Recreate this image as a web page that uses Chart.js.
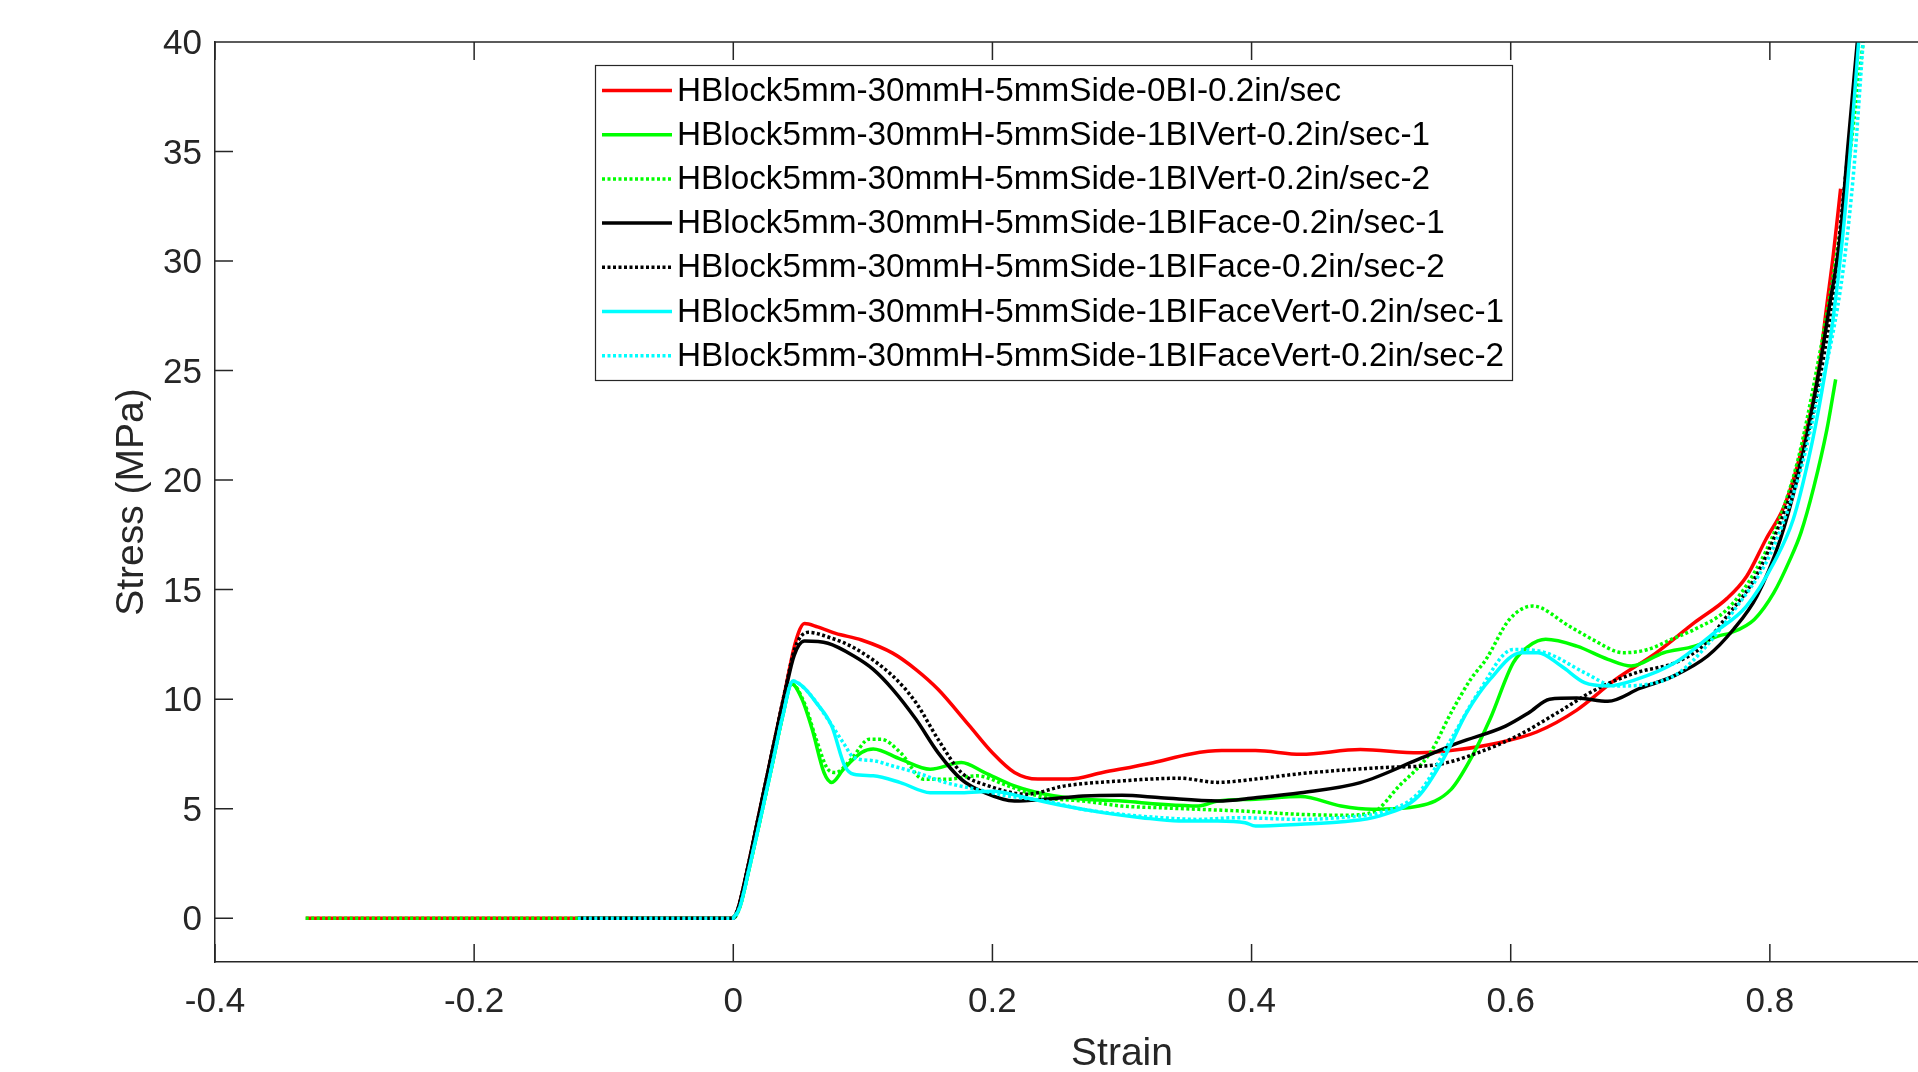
<!DOCTYPE html>
<html>
<head>
<meta charset="utf-8">
<script src="https://cdn.jsdelivr.net/npm/chart.js@4.4.0/dist/chart.umd.min.js"></script>
<style>
html,body{margin:0;padding:0;overflow:hidden;background:#fff;width:1918px;height:1072px;}
#wrap{position:absolute;left:0;top:0;width:2100px;height:1072px;}
canvas{display:block;}
</style>
</head>
<body>
<div id="wrap"><canvas id="c" width="2100" height="1072" style="width:2100px;height:1072px"></canvas></div>
<script>
// ---- data ----
const seriesLabels = [
  "HBlock5mm-30mmH-5mmSide-0BI-0.2in/sec",
  "HBlock5mm-30mmH-5mmSide-1BIVert-0.2in/sec-1",
  "HBlock5mm-30mmH-5mmSide-1BIVert-0.2in/sec-2",
  "HBlock5mm-30mmH-5mmSide-1BIFace-0.2in/sec-1",
  "HBlock5mm-30mmH-5mmSide-1BIFace-0.2in/sec-2",
  "HBlock5mm-30mmH-5mmSide-1BIFaceVert-0.2in/sec-1",
  "HBlock5mm-30mmH-5mmSide-1BIFaceVert-0.2in/sec-2"
];

const strainRed = [-0.33, 0, 0.004, 0.01, 0.02, 0.03, 0.04, 0.048, 0.055, 0.065, 0.079, 0.099, 0.123, 0.141, 0.158, 0.182, 0.2, 0.217, 0.235, 0.259, 0.285, 0.324, 0.353, 0.377, 0.403, 0.438, 0.484, 0.529, 0.56, 0.59, 0.62, 0.651, 0.681, 0.712, 0.742, 0.767, 0.782, 0.797, 0.811, 0.821, 0.831, 0.838, 0.844, 0.849, 0.8546];
const stressRed = [0, 0, 0.5, 2.0, 4.8, 7.6, 10.4, 12.6, 13.45, 13.3, 13.0, 12.7, 12.1, 11.35, 10.45, 8.8, 7.55, 6.65, 6.35, 6.35, 6.65, 7.1, 7.5, 7.65, 7.65, 7.48, 7.7, 7.55, 7.7, 8.0, 8.5, 9.5, 10.9, 12.1, 13.5, 14.6, 15.6, 17.3, 18.8, 20.6, 23.0, 25.2, 28.0, 30.3, 33.3];

const strainVert1 = [0, 0.005, 0.012, 0.02, 0.03, 0.038, 0.045, 0.053, 0.061, 0.07, 0.076, 0.085, 0.099, 0.108, 0.129, 0.152, 0.176, 0.194, 0.217, 0.241, 0.27, 0.3, 0.33, 0.359, 0.374, 0.403, 0.438, 0.469, 0.493, 0.529, 0.554, 0.569, 0.584, 0.602, 0.614, 0.627, 0.651, 0.675, 0.693, 0.718, 0.742, 0.76, 0.77, 0.788, 0.803, 0.815, 0.824, 0.834, 0.844, 0.8508];
const stressVert1 = [0, 0.5, 2.2, 4.3, 7.0, 9.2, 10.7, 10.0, 8.6, 6.65, 6.2, 6.8, 7.56, 7.72, 7.26, 6.8, 7.11, 6.65, 6.04, 5.66, 5.43, 5.35, 5.2, 5.12, 5.35, 5.43, 5.55, 5.12, 4.97, 5.12, 5.88, 7.26, 9.08, 11.67, 12.42, 12.73, 12.42, 11.82, 11.51, 12.12, 12.42, 12.88, 13.03, 13.64, 14.85, 16.3, 17.6, 19.7, 22.3, 24.6];

const strainVert2 = [-0.33, 0, 0.005, 0.012, 0.02, 0.03, 0.038, 0.045, 0.055, 0.064, 0.073, 0.079, 0.091, 0.105, 0.114, 0.129, 0.147, 0.164, 0.188, 0.212, 0.241, 0.27, 0.3, 0.33, 0.359, 0.389, 0.438, 0.47, 0.493, 0.514, 0.538, 0.554, 0.569, 0.581, 0.599, 0.617, 0.645, 0.663, 0.687, 0.706, 0.724, 0.742, 0.767, 0.788, 0.806, 0.822, 0.836, 0.848, 0.858, 0.866, 0.872];
const stressVert2 = [0, 0, 0.5, 2.2, 4.3, 7.0, 9.2, 10.7, 9.8, 8.17, 6.8, 6.65, 7.26, 8.17, 8.17, 7.56, 6.34, 6.34, 6.5, 6.04, 5.5, 5.35, 5.12, 5.04, 4.97, 4.9, 4.74, 4.7, 4.82, 6.04, 7.56, 9.38, 10.9, 11.82, 13.64, 14.25, 13.34, 12.73, 12.12, 12.27, 12.73, 13.19, 14.1, 15.77, 18.0, 21.0, 25.0, 29.0, 33.0, 37.0, 40];

const strainFace1 = [-0.12, 0, 0.004, 0.01, 0.02, 0.03, 0.04, 0.047, 0.055, 0.073, 0.093, 0.108, 0.123, 0.141, 0.158, 0.176, 0.194, 0.217, 0.241, 0.27, 0.3, 0.33, 0.374, 0.403, 0.438, 0.484, 0.529, 0.56, 0.596, 0.614, 0.63, 0.651, 0.675, 0.7, 0.726, 0.752, 0.772, 0.79, 0.808, 0.821, 0.831, 0.839, 0.846, 0.8546, 0.86, 0.8675];
const stressFace1 = [0, 0, 0.5, 2.0, 4.8, 7.6, 10.3, 12.0, 12.65, 12.55, 11.97, 11.36, 10.45, 9.08, 7.56, 6.34, 5.73, 5.35, 5.43, 5.58, 5.61, 5.5, 5.35, 5.5, 5.73, 6.19, 7.26, 8.01, 8.77, 9.38, 10.0, 10.05, 9.9, 10.5, 11.06, 11.97, 13.19, 14.7, 17.29, 20.03, 22.76, 25.35, 27.94, 31.3, 35.1, 40];

const strainFace2 = [0, 0.004, 0.01, 0.02, 0.03, 0.04, 0.048, 0.058, 0.075, 0.093, 0.123, 0.141, 0.158, 0.176, 0.197, 0.226, 0.256, 0.3, 0.344, 0.374, 0.403, 0.438, 0.499, 0.545, 0.575, 0.605, 0.636, 0.666, 0.697, 0.727, 0.748, 0.767, 0.788, 0.809, 0.822, 0.833, 0.842, 0.85, 0.856, 0.862, 0.868];
const stressFace2 = [0, 0.5, 2.0, 4.8, 7.6, 10.4, 12.4, 13.05, 12.8, 12.35, 11.06, 9.84, 8.17, 6.65, 6.04, 5.66, 6.04, 6.27, 6.39, 6.2, 6.35, 6.6, 6.87, 7.03, 7.56, 8.32, 9.38, 10.45, 11.21, 11.67, 12.42, 13.8, 15.47, 18.2, 20.5, 23.0, 25.8, 29.0, 32.5, 36.0, 40];

const strainFaceVert1 = [0, 0.005, 0.012, 0.02, 0.03, 0.038, 0.046, 0.055, 0.064, 0.076, 0.086, 0.093, 0.108, 0.129, 0.152, 0.176, 0.2, 0.226, 0.256, 0.285, 0.315, 0.344, 0.374, 0.395, 0.403, 0.438, 0.47, 0.499, 0.529, 0.548, 0.566, 0.584, 0.608, 0.621, 0.639, 0.657, 0.675, 0.697, 0.727, 0.757, 0.782, 0.803, 0.818, 0.83, 0.84, 0.848, 0.856, 0.862, 0.8685];
const stressFaceVert1 = [0, 0.5, 2.2, 4.3, 7.0, 9.2, 10.83, 10.5, 9.84, 8.77, 6.95, 6.57, 6.5, 6.19, 5.73, 5.73, 5.8, 5.5, 5.12, 4.82, 4.59, 4.44, 4.44, 4.36, 4.21, 4.29, 4.4, 4.67, 5.58, 7.26, 9.38, 10.9, 12.12, 12.12, 11.51, 10.75, 10.6, 10.9, 11.67, 13.03, 14.25, 16.22, 18.2, 21.0, 24.0, 27.0, 31.0, 35.0, 40];

const strainFaceVert2 = [-0.12, 0, 0.005, 0.012, 0.02, 0.03, 0.038, 0.046, 0.058, 0.073, 0.085, 0.093, 0.108, 0.123, 0.141, 0.164, 0.188, 0.212, 0.241, 0.27, 0.3, 0.33, 0.359, 0.389, 0.438, 0.47, 0.499, 0.529, 0.554, 0.575, 0.602, 0.627, 0.657, 0.681, 0.712, 0.73, 0.751, 0.773, 0.797, 0.81, 0.824, 0.836, 0.848, 0.857, 0.865, 0.872];
const stressFaceVert2 = [0, 0, 0.5, 2.2, 4.3, 7.0, 9.2, 10.83, 10.3, 9.08, 8.0, 7.34, 7.19, 6.95, 6.65, 6.19, 5.88, 5.58, 5.35, 4.97, 4.74, 4.59, 4.51, 4.59, 4.51, 4.6, 4.82, 5.73, 8.17, 10.3, 12.27, 12.12, 11.21, 10.6, 10.75, 11.21, 12.42, 14.1, 16.22, 18.0, 20.5, 23.5, 26.5, 29.8, 34.3, 40];

const xTickValues = [-0.4, -0.2, 0, 0.2, 0.4, 0.6, 0.8, 1.0];
const xTickLabels = ["-0.4", "-0.2", "0", "0.2", "0.4", "0.6", "0.8", "1"];
const yTickValues = [0, 5, 10, 15, 20, 25, 30, 35, 40];
const yTickLabels = ["0", "5", "10", "15", "20", "25", "30", "35", "40"];

// ---- styling ----
const FONT = "'Liberation Sans', Arial, Helvetica, sans-serif";
const AXIS = '#262626';
const TICK_LEN = 18;
Chart.defaults.font.family = FONT;

function pts(xs, ys){ return xs.map((x, i) => ({x: x, y: ys[i]})); }
function ds(label, xs, ys, color, dotted, order){
  return {
    label: label, data: pts(xs, ys), borderColor: color, backgroundColor: color,
    borderWidth: 3.5, borderDash: dotted ? [3, 2.5] : [], pointRadius: 0,
    cubicInterpolationMode: 'monotone', fill: false, order: order
  };
}

const datasets = [
  ds(seriesLabels[0], strainRed, stressRed, '#ff0000', false, 6),
  ds(seriesLabels[1], strainVert1, stressVert1, '#00ff00', false, 5),
  ds(seriesLabels[2], strainVert2, stressVert2, '#00ff00', true, 4),
  ds(seriesLabels[3], strainFace1, stressFace1, '#000000', false, 3),
  ds(seriesLabels[4], strainFace2, stressFace2, '#000000', true, 2),
  ds(seriesLabels[5], strainFaceVert1, stressFaceVert1, '#00ffff', false, 1),
  ds(seriesLabels[6], strainFaceVert2, stressFaceVert2, '#00ffff', true, 0)
];

const frameAndLegend = {
  id: 'frameAndLegend',
  afterDraw(chart){
    const ctx = chart.ctx, a = chart.chartArea, x = chart.scales.x, y = chart.scales.y;
    ctx.save();
    ctx.strokeStyle = AXIS; ctx.lineWidth = 1.5;
    ctx.beginPath();
    ctx.moveTo(a.left, a.top); ctx.lineTo(a.right, a.top);
    ctx.moveTo(a.right, a.top); ctx.lineTo(a.right, a.bottom);
    y.ticks.forEach(t => {
      const py = y.getPixelForValue(t.value);
      ctx.moveTo(a.left, py); ctx.lineTo(a.left + TICK_LEN, py);
      ctx.moveTo(a.right, py); ctx.lineTo(a.right - TICK_LEN, py);
    });
    x.ticks.forEach(t => {
      const px = x.getPixelForValue(t.value);
      ctx.moveTo(px, a.bottom); ctx.lineTo(px, a.bottom - TICK_LEN);
      ctx.moveTo(px, a.top); ctx.lineTo(px, a.top + TICK_LEN);
    });
    ctx.stroke();

    // legend box inside the axes
    const L = {x: 595, y: 65, w: 917, h: 315, row0: 90.5, gap: 44.2, l0: 602, l1: 672, tx: 677};
    ctx.fillStyle = '#ffffff';
    ctx.fillRect(L.x, L.y, L.w, L.h);
    ctx.lineWidth = 1.2; ctx.strokeStyle = AXIS;
    ctx.strokeRect(L.x + 0.5, L.y + 0.5, L.w, L.h);
    ctx.font = '33.3px ' + FONT;
    ctx.textBaseline = 'middle'; ctx.textAlign = 'left';
    chart.data.datasets.forEach((d, i) => {
      const ry = L.row0 + i * L.gap;
      ctx.save();
      ctx.strokeStyle = d.borderColor; ctx.lineWidth = d.borderWidth;
      ctx.setLineDash(d.borderDash || []);
      ctx.beginPath(); ctx.moveTo(L.l0, ry); ctx.lineTo(L.l1, ry); ctx.stroke();
      ctx.restore();
      ctx.fillStyle = '#000000';
      ctx.fillText(d.label, L.tx, ry + 1);
    });
    ctx.restore();
  }
};

new Chart(document.getElementById('c'), {
  type: 'line',
  data: { datasets: datasets },
  plugins: [frameAndLegend],
  options: {
    responsive: false, animation: false, devicePixelRatio: 1,
    layout: { padding: { left: 0, right: 71, top: 42, bottom: 0 } },
    plugins: { legend: { display: false }, tooltip: { enabled: false } },
    elements: { point: { radius: 0 } },
    scales: {
      x: {
        type: 'linear', position: 'bottom', min: -0.4, max: 1.0,
        afterFit: s => { s.height = 110; },
        afterBuildTicks: s => { s.ticks = xTickValues.map(v => ({value: v})); },
        grid: { display: false, drawTicks: false },
        border: { display: true, color: AXIS, width: 1.5 },
        ticks: { callback: (v, i) => xTickLabels[i], font: { size: 35, family: FONT }, color: AXIS, padding: 19.5, maxRotation: 0, autoSkip: false },
        title: { display: true, text: 'Strain', color: AXIS, font: { size: 39, family: FONT, lineHeight: 1 }, padding: { top: 0, bottom: -2 } }
      },
      y: {
        type: 'linear', position: 'left', min: -2, max: 40,
        afterFit: s => { s.width = 215; },
        afterBuildTicks: s => { s.ticks = yTickValues.map(v => ({value: v})); },
        grid: { display: false, drawTicks: false },
        border: { display: true, color: AXIS, width: 1.5 },
        ticks: { callback: (v, i) => yTickLabels[i], font: { size: 35, family: FONT }, color: AXIS, padding: 13, labelOffset: 2.5, autoSkip: false },
        title: { display: true, text: 'Stress (MPa)', color: AXIS, font: { size: 39, family: FONT, lineHeight: 1 }, padding: { top: 113, bottom: 0 } }
      }
    }
  }
});
</script>
</body>
</html>
